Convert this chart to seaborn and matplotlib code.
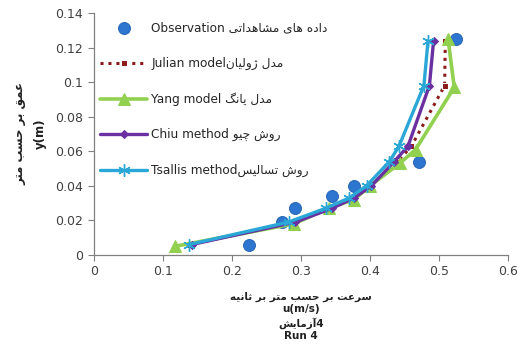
import matplotlib
matplotlib.use("Agg")
import matplotlib.pyplot as plt
import seaborn as sns
import pandas as pd

# ---------------- data ----------------
obs_u = [0.225, 0.272, 0.291, 0.345, 0.377, 0.471, 0.525]
obs_y = [0.006, 0.019, 0.027, 0.034, 0.040, 0.054, 0.125]

model_y = [0.006, 0.019, 0.027, 0.033, 0.040, 0.054, 0.063, 0.098, 0.124]
yang_y = [0.005, 0.018, 0.027, 0.032, 0.040, 0.053, 0.061, 0.097, 0.125]
julian_u = [0.140, 0.290, 0.340, 0.372, 0.400, 0.440, 0.460, 0.508, 0.509]
yang_u = [0.118, 0.290, 0.340, 0.377, 0.400, 0.443, 0.466, 0.522, 0.513]
chiu_u = [0.142, 0.292, 0.345, 0.377, 0.402, 0.435, 0.455, 0.486, 0.492]
tsallis_u = [0.138, 0.282, 0.336, 0.370, 0.395, 0.428, 0.442, 0.478, 0.484]

xticks = [0, 0.1, 0.2, 0.3, 0.4, 0.5, 0.6]
xticklabels = ["0", "0.1", "0.2", "0.3", "0.4", "0.5", "0.6"]
yticks = [0, 0.02, 0.04, 0.06, 0.08, 0.1, 0.12, 0.14]
yticklabels = ["0", "0.02", "0.04", "0.06", "0.08", "0.1", "0.12", "0.14"]

# ---------------- minimal Persian shaping (matplotlib has no bidi/shaping) ----------------
FORMS = {
    "\u0627": ("\uFE8D", "\uFE8E", None, None),
    "\u0622": ("\uFE81", "\uFE82", None, None),
    "\u0628": ("\uFE8F", "\uFE90", "\uFE91", "\uFE92"),
    "\u062A": ("\uFE95", "\uFE96", "\uFE97", "\uFE98"),
    "\u062B": ("\uFE99", "\uFE9A", "\uFE9B", "\uFE9C"),
    "\u062D": ("\uFEA1", "\uFEA2", "\uFEA3", "\uFEA4"),
    "\u0686": ("\uFB7A", "\uFB7B", "\uFB7C", "\uFB7D"),
    "\u062F": ("\uFEA9", "\uFEAA", None, None),
    "\u0631": ("\uFEAD", "\uFEAE", None, None),
    "\u0632": ("\uFEAF", "\uFEB0", None, None),
    "\u0698": ("\uFB8A", "\uFB8B", None, None),
    "\u0633": ("\uFEB1", "\uFEB2", "\uFEB3", "\uFEB4"),
    "\u0634": ("\uFEB5", "\uFEB6", "\uFEB7", "\uFEB8"),
    "\u0639": ("\uFEC9", "\uFECA", "\uFECB", "\uFECC"),
    "\u0642": ("\uFED5", "\uFED6", "\uFED7", "\uFED8"),
    "\u06AF": ("\uFB92", "\uFB93", "\uFB94", "\uFB95"),
    "\u0644": ("\uFEDD", "\uFEDE", "\uFEDF", "\uFEE0"),
    "\u0645": ("\uFEE1", "\uFEE2", "\uFEE3", "\uFEE4"),
    "\u0646": ("\uFEE5", "\uFEE6", "\uFEE7", "\uFEE8"),
    "\u0647": ("\uFEE9", "\uFEEA", "\uFEEB", "\uFEEC"),
    "\u0648": ("\uFEED", "\uFEEE", None, None),
    "\u06CC": ("\uFBFC", "\uFBFD", "\uFBFE", "\uFBFF"),
}


def fa(s):
    out = []
    for i, c in enumerate(s):
        if c not in FORMS:
            out.append(c)
            continue
        iso, fin, ini, med = FORMS[c]
        prev = s[i - 1] if i > 0 else None
        nxt = s[i + 1] if i + 1 < len(s) else None
        jp = prev in FORMS and FORMS[prev][2] is not None
        jn = ini is not None and nxt in FORMS
        if jp and jn:
            out.append(med)
        elif jp:
            out.append(fin)
        elif jn:
            out.append(ini)
        else:
            out.append(iso)
    return "".join(out)[::-1]


lab_obs = "Observation " + fa("داده های مشاهداتی")
lab_jul = "Julian model" + fa("مدل ژولیان")
lab_yang = "Yang model " + fa("مدل یانگ")
lab_chiu = "Chiu method " + fa("روش چیو")
lab_ts = "Tsallis method" + fa("روش تسالیس")
ylab = fa("عمق بر حسب متر") + "\ny(m)"
xlab = fa("سرعت بر حسب متر بر ثانیه") + "\nu(m/s)\n" + fa("آزمایش") + "4\nRun 4"

# ---------------- plot ----------------
sns.set_theme(style="white")
plt.rcParams["font.family"] = ["DejaVu Sans"]

fig = plt.figure(figsize=(5.18, 3.54), dpi=100)
ax = fig.add_axes([0.181, 0.28, 0.80, 0.683])

sns.scatterplot(x=obs_u, y=obs_y, ax=ax, color="#2E75D0", s=75, edgecolor="#1F5FAF",
                linewidth=0.6, label=lab_obs, zorder=2)
sns.lineplot(x=julian_u, y=model_y, ax=ax, sort=False, color="#8B1A1A", lw=2.2,
             linestyle=(0, (1, 1.6)), marker="s", markersize=5, label=lab_jul, zorder=3)
sns.lineplot(x=yang_u, y=yang_y, ax=ax, sort=False, color="#92D050", lw=2.6,
             marker="^", markersize=8, markeredgecolor="#92D050", label=lab_yang, zorder=3)
sns.lineplot(x=chiu_u, y=model_y, ax=ax, sort=False, color="#6A2FA0", lw=2.4,
             marker="D", markersize=4.5, markeredgecolor="#6A2FA0", label=lab_chiu, zorder=4)
sns.lineplot(x=tsallis_u, y=model_y, ax=ax, sort=False, color="#2AA7D6", lw=2.4,
             marker=(6, 2, 0), markersize=9, markeredgewidth=1.0, markeredgecolor="#2AA7D6",
             label=lab_ts, zorder=5)

ax.set_xlim(0, 0.6)
ax.set_ylim(0, 0.14)
ax.set_xticks(xticks)
ax.set_xticklabels(xticklabels, fontsize=9, color="#404040")
ax.set_yticks(yticks)
ax.set_yticklabels(yticklabels, fontsize=9, color="#404040")
ax.tick_params(axis="both", direction="out", length=4, width=0.8, color="#808080",
               bottom=True, left=True)
for side in ["top", "right"]:
    ax.spines[side].set_visible(False)
for side in ["left", "bottom"]:
    ax.spines[side].set_color("#808080")
    ax.spines[side].set_linewidth(0.9)

ax.set_ylabel(ylab, fontsize=8.5, fontweight="bold", color="#202020", labelpad=6,
              linespacing=1.8)
ax.set_xlabel(xlab, fontsize=7.5, fontweight="bold", color="#202020", labelpad=10,
              linespacing=1.25)

leg = ax.legend(loc="upper left", bbox_to_anchor=(-0.005, 1.0), frameon=False,
                fontsize=8.7, handlelength=3.9, labelspacing=1.85, handletextpad=0.35,
                borderaxespad=0.3)

fig.savefig("out.png", dpi=100)
